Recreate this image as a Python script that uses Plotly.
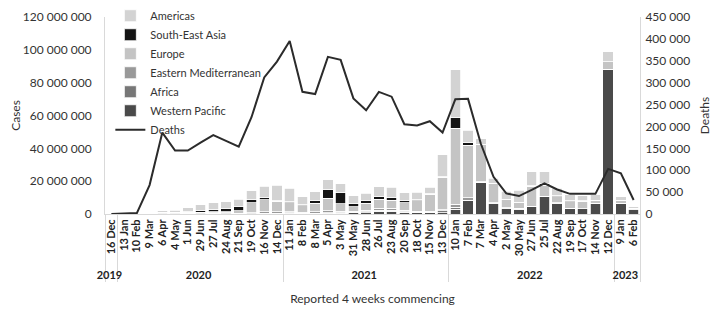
import plotly.graph_objects as go

# ---- data ----
years = ["2019"] + ["2020"] * 13 + ["2021"] * 13 + ["2022"] * 13 + ["2023"] * 2
periods = ["16 Dec",
           "13 Jan", "10 Feb", "9 Mar", "6 Apr", "4 May", "1 Jun", "29 Jun", "27 Jul", "24 Aug", "21 Sep", "19 Oct", "16 Nov", "14 Dec",
           "11 Jan", "8 Feb", "8 Mar", "5 Apr", "3 May", "31 May", "28 Jun", "26 Jul", "23 Aug", "20 Sep", "18 Oct", "15 Nov", "13 Dec",
           "10 Jan", "7 Feb", "7 Mar", "4 Apr", "2 May", "30 May", "27 Jun", "25 Jul", "22 Aug", "19 Sep", "17 Oct", "14 Nov", "12 Dec",
           "9 Jan", "6 Feb"]

# cases per region, millions
western_pacific = [0.003, 0.01, 0.07, 0.03, 0.05, 0.04, 0.03, 0.05, 0.1, 0.1, 0.1, 0.15, 0.2, 0.3,
                   0.35, 0.2, 0.25, 0.4, 0.5, 0.7, 0.8, 1.6, 1.7, 1.2, 0.8, 0.9, 0.7,
                   3.0, 8.0, 19.0, 6.7, 3.5, 3.0, 4.3, 10.5, 6.7, 3.4, 3.2, 6.3, 88.0,
                   6.5, 2.5]
africa = [0, 0, 0, 0.005, 0.02, 0.05, 0.1, 0.2, 0.3, 0.2, 0.1, 0.15, 0.2, 0.3,
          0.45, 0.25, 0.2, 0.3, 0.2, 0.3, 0.6, 0.7, 0.5, 0.3, 0.15, 0.15, 1.3,
          1.0, 0.4, 0.2, 0.1, 0.2, 0.3, 0.3, 0.2, 0.1, 0.05, 0.05, 0.05, 0.05,
          0.03, 0.02]
eastern_med = [0, 0, 0.001, 0.06, 0.12, 0.2, 0.35, 0.45, 0.4, 0.35, 0.4, 0.6, 0.85, 0.7,
               0.6, 0.6, 0.9, 1.3, 1.0, 0.8, 0.8, 1.2, 1.3, 0.9, 0.6, 0.5, 0.5,
               2.0, 1.6, 0.5, 0.2, 0.1, 0.1, 0.2, 0.2, 0.2, 0.1, 0.1, 0.05, 0.05,
               0.02, 0.03]
europe = [0, 0, 0.002, 0.5, 0.85, 0.7, 0.5, 0.45, 0.5, 0.75, 1.5, 6.0, 7.4, 6.4,
          5.6, 4.0, 5.3, 7.6, 4.4, 2.5, 4.3, 5.4, 5.0, 4.6, 6.5, 10.5, 20.0,
          46.3, 32.0, 22.5, 11.5, 5.0, 3.5, 12.0, 6.5, 3.5, 4.0, 4.5, 2.0, 4.5,
          1.8, 0.9]
south_east_asia = [0, 0, 0, 0.005, 0.04, 0.12, 0.4, 0.75, 1.35, 2.0, 2.5, 1.9, 1.3, 0.8,
                   0.6, 0.5, 1.3, 5.5, 7.1, 2.0, 1.6, 2.0, 1.7, 1.1, 0.7, 0.5, 0.6,
                   6.7, 1.5, 0.4, 0.2, 0.3, 0.4, 0.8, 1.3, 0.9, 0.45, 0.25, 0.1, 0.1,
                   0.05, 0.05]
americas = [0, 0, 0, 0.2, 0.9, 1.3, 2.5, 3.6, 4.25, 4.1, 4.3, 5.4, 7.05, 9.0,
            8.2, 5.05, 5.65, 5.9, 5.1, 4.9, 4.5, 5.7, 6.0, 4.9, 4.45, 3.65, 12.9,
            29.0, 7.5, 3.3, 3.0, 4.9, 7.3, 8.2, 7.1, 4.2, 3.6, 2.9, 3.1, 6.1,
            2.2, 1.0]
deaths = [0, 1000, 2000, 66000, 186000, 145000, 145000, 163000, 180000, 167000, 154000, 221000, 312000, 348000,
          395000, 279000, 274000, 359000, 352000, 264000, 237000, 279000, 268000, 205000, 202000, 212000, 186000,
          262000, 263000, 161000, 85000, 47000, 41000, 55000, 70000, 56000, 46000, 46000, 46000, 103000,
          93000, 32000]

cases_ticks = [0, 20e6, 40e6, 60e6, 80e6, 100e6, 120e6]
deaths_ticks = [0, 50000, 100000, 150000, 200000, 250000, 300000, 350000, 400000, 450000]

x = [years, periods]
FONT = "Lato"

series = [
    ("Western Pacific", western_pacific, "#4a4a4a", 6),
    ("Africa", africa, "#777777", 5),
    ("Eastern Mediterranean", eastern_med, "#999999", 4),
    ("Europe", europe, "#c4c4c4", 3),
    ("South-East Asia", south_east_asia, "#141414", 2),
    ("Americas", americas, "#d3d3d3", 1),
]

fig = go.Figure()
for name, vals, col, rank in series:
    fig.add_trace(go.Bar(
        x=x, y=[v * 1e6 for v in vals], name=name, legendrank=rank,
        marker=dict(color=col, line=dict(color="white", width=0.8)),
    ))
fig.add_trace(go.Scatter(
    x=x, y=deaths, name="Deaths", yaxis="y2", mode="lines", legendrank=7,
    line=dict(color="#2b2b2b", width=2),
))

# page has an 8px body margin, so margins are offset by 8px
fig.update_layout(
    width=718, height=310,
    margin=dict(l=97, r=86, t=9, b=104, autoexpand=False),
    paper_bgcolor="white", plot_bgcolor="white",
    barmode="stack", bargap=0.18,
    separators=". ",
    font=dict(family=FONT, size=11, color="#333333"),
    showlegend=True,
    legend=dict(x=0.01, y=1.08, xanchor="left", yanchor="top", traceorder="normal",
                bgcolor="rgba(255,255,255,0)", font=dict(size=11, color="#333333"),
                tracegroupgap=0, itemwidth=30),
    xaxis=dict(
        type="multicategory", tickangle=-90, automargin=False,
        tickmode="linear", dtick=1,
        tickfont=dict(size=11, color="#222222", weight="bold"),
        showline=True, linecolor="#d9d9d9", linewidth=1,
        showdividers=True, dividercolor="#d9d9d9", dividerwidth=1,
        title=dict(text="Reported 4 weeks commencing", font=dict(size=12, color="#333333"), standoff=14),
    ),
    yaxis=dict(
        range=[0, 120e6], tickvals=cases_ticks, tickformat=",d", automargin=False,
        tickfont=dict(size=12, color="#333333"),
        showgrid=False, zeroline=False, showline=True, linecolor="#d9d9d9",
        ticklabelstandoff=10,
        title=dict(text="Cases", font=dict(size=12, color="#333333"), standoff=3),
    ),
    yaxis2=dict(
        range=[0, 450000], tickvals=deaths_ticks, tickformat=",d", automargin=False,
        tickfont=dict(size=12, color="#333333"),
        overlaying="y", side="right",
        showgrid=False, zeroline=False, showline=True, linecolor="#d9d9d9",
        ticklabelstandoff=2,
        title=dict(text="Deaths", font=dict(size=12, color="#333333"), standoff=11),
    ),
)

fig.write_html("out.html")
